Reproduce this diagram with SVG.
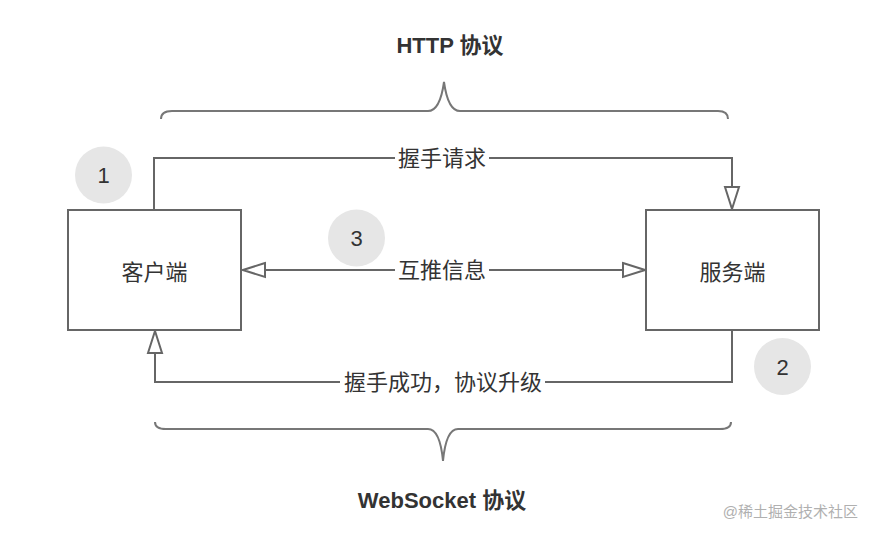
<svg xmlns="http://www.w3.org/2000/svg" width="895" height="542" viewBox="0 0 895 542">
  <style>
    .box { fill: #ffffff; stroke: #666666; stroke-width: 2; }
    .conn { fill: none; stroke: #666666; stroke-width: 2; }
    .brace { fill: none; stroke: #777777; stroke-width: 2; }
    .badge { fill: #e6e6e6; }
    .t { font-family: "Liberation Sans", "Noto Sans CJK SC", sans-serif; fill: #333333; text-anchor: middle; }
    .lbl { font-size: 22px; }
    .title { font-size: 22px; font-weight: bold; }
    .num { font-size: 22px; }
    .bg { fill: #ffffff; }
    .wm { font-family: "Liberation Sans", "Noto Sans CJK SC", sans-serif; font-size: 15px; fill: #b0b0b0; text-anchor: end; }
  </style>
  <defs>
    <marker id="arrow" markerUnits="userSpaceOnUse" markerWidth="26" markerHeight="18" viewBox="0 0 26 18" refX="24" refY="9" orient="auto">
      <path d="M2,2 L24,9 L2,16 Z" fill="#ffffff" stroke="#666666" stroke-width="2" stroke-linejoin="miter"/>
    </marker>
    <marker id="arrowStart" markerUnits="userSpaceOnUse" markerWidth="26" markerHeight="18" viewBox="0 0 26 18" refX="2" refY="9" orient="auto">
      <path d="M24,2 L2,9 L24,16 Z" fill="#ffffff" stroke="#666666" stroke-width="2" stroke-linejoin="miter"/>
    </marker>
  </defs>

  <rect width="895" height="542" fill="#ffffff"/>

  <g id="title-http">
    <text class="t title" x="450" y="53">HTTP 协议</text>
  </g>
  <g id="brace-top">
    <path class="brace" d="M161,119 Q161,111 172,111 L428,111 Q440,111 444,82 Q448,111 460,111 L718,111 Q728,111 728,119"/>
  </g>

  <g id="connectors">
    <path id="conn-request" class="conn" d="M154,210 L154,158 L732,158 L732,209" marker-end="url(#arrow)"/>
    <path id="conn-push" class="conn" d="M243,270 L645,270" marker-start="url(#arrowStart)" marker-end="url(#arrow)"/>
    <path id="conn-success" class="conn" d="M732,330 L732,382 L155,382 L155,331" marker-end="url(#arrow)"/>
    <g id="label-request">
      <rect class="bg" x="395" y="146" width="94" height="24"/>
      <text class="t lbl" x="442" y="166">握手请求</text>
    </g>
    <g id="label-push">
      <rect class="bg" x="395" y="258" width="94" height="24"/>
      <text class="t lbl" x="442" y="278">互推信息</text>
    </g>
    <g id="label-success">
      <rect class="bg" x="340" y="370" width="205" height="24"/>
      <text class="t lbl" x="443" y="390">握手成功，协议升级</text>
    </g>
  </g>

  <g id="node-client">
    <rect class="box" x="68" y="210" width="173" height="120"/>
    <text class="t lbl" x="154.5" y="280">客户端</text>
  </g>
  <g id="node-server">
    <rect class="box" x="646" y="210" width="173" height="120"/>
    <text class="t lbl" x="732.5" y="280">服务端</text>
  </g>

  <g id="badge-1">
    <circle class="badge" cx="103.5" cy="175" r="28.5"/>
    <text class="t num" x="103.5" y="183">1</text>
  </g>
  <g id="badge-3">
    <circle class="badge" cx="356.5" cy="238" r="28.5"/>
    <text class="t num" x="356.5" y="246">3</text>
  </g>
  <g id="badge-2">
    <circle class="badge" cx="782.5" cy="366.5" r="28.5"/>
    <text class="t num" x="782.5" y="374.5">2</text>
  </g>

  <g id="brace-bottom">
    <path class="brace" d="M155,422 Q155,429 166,429 L428,429 Q440,429 443,461 Q446,429 458,429 L720,429 Q731,429 731,422"/>
  </g>
  <g id="title-websocket">
    <text class="t title" x="442" y="508">WebSocket 协议</text>
  </g>

  <text class="wm" x="858" y="517">@稀土掘金技术社区</text>
</svg>
